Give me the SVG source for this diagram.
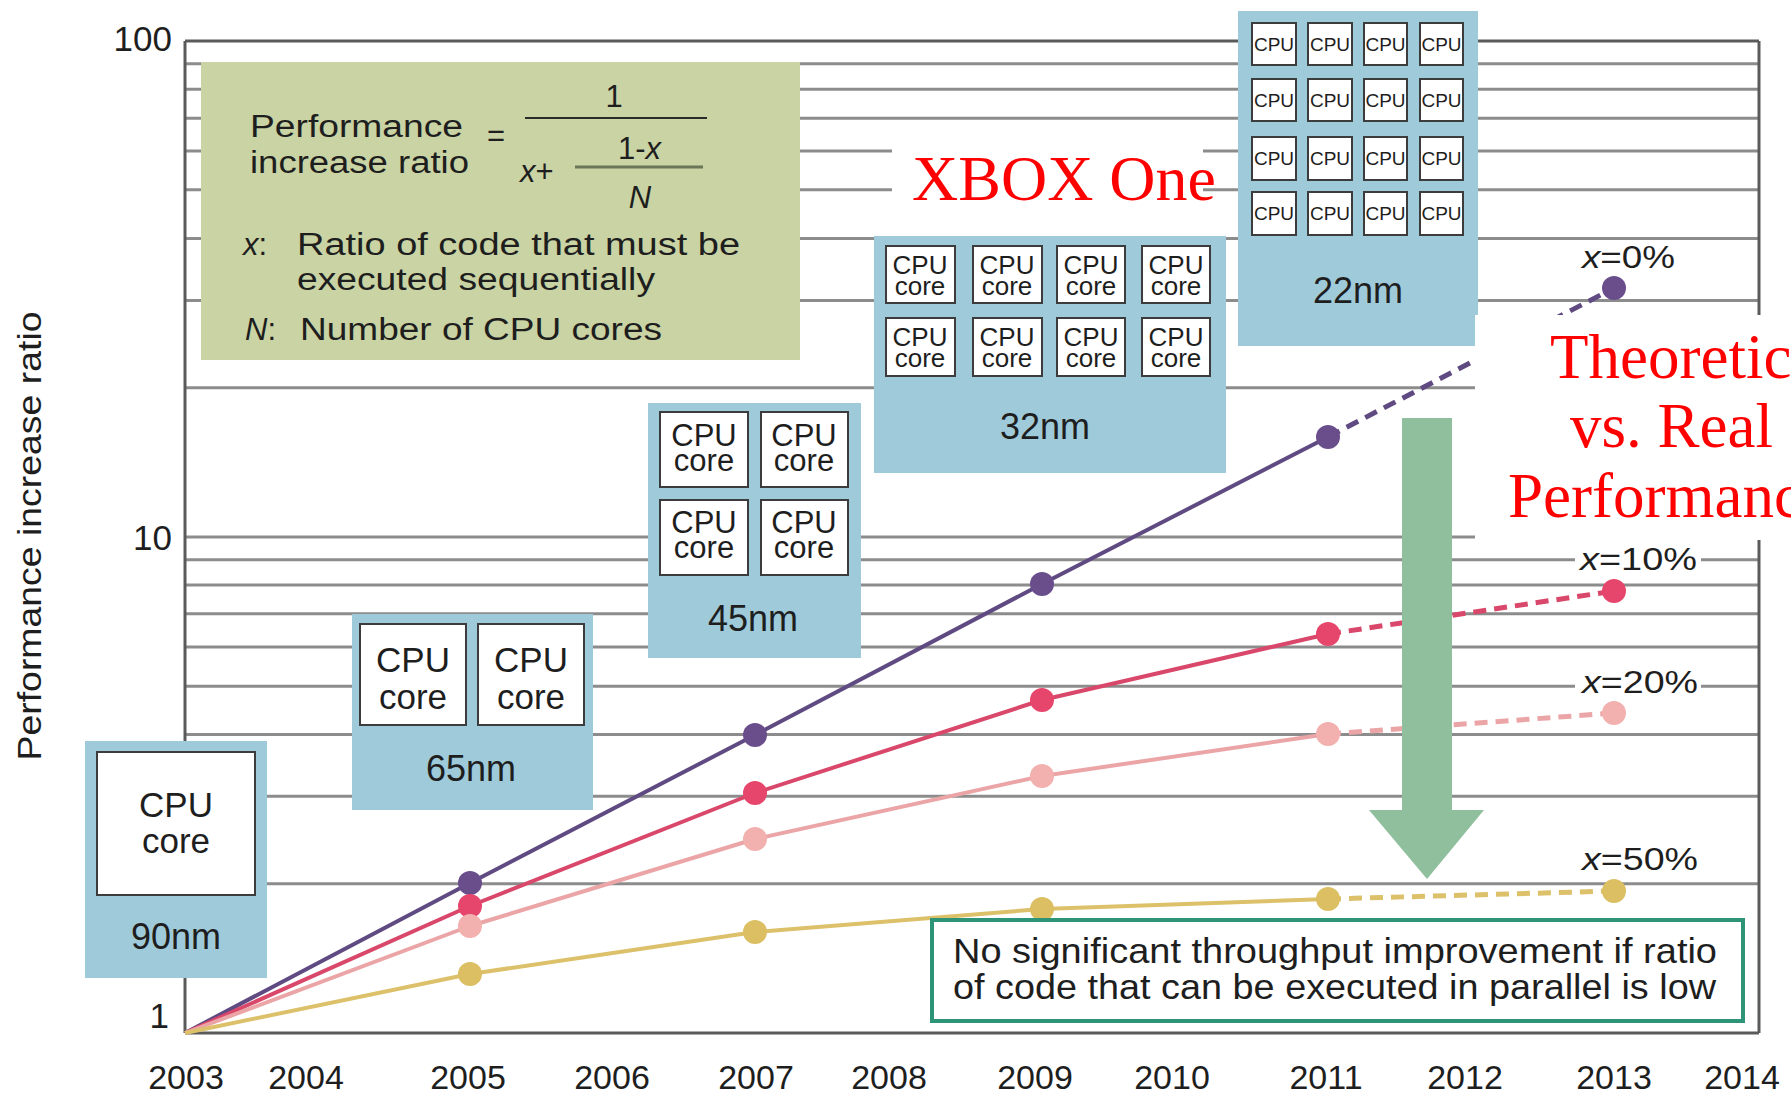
<svg xmlns="http://www.w3.org/2000/svg" width="1791" height="1096" viewBox="0 0 1791 1096">
<style>
text{font-family:"Liberation Sans",Arial,sans-serif;fill:#1e1e1e}
.grid{stroke:#8c8c8c;stroke-width:3;fill:none}
.axis{stroke:#5a5a5a;stroke-width:3;fill:none}
.blue{fill:#9ecad9}
.core{fill:#ffffff;stroke:#3c3c3c;stroke-width:2}
.yr{font-size:34px;text-anchor:middle}
.ylab{font-size:35px;text-anchor:end}
.lbl{font-size:32px}
.it{font-style:italic}
.nm{font-size:36px;text-anchor:middle}
.c36{font-size:35px;text-anchor:middle}
.c31{font-size:31px;text-anchor:middle}
.c26{font-size:26px;text-anchor:middle}
.c19{font-size:19px;text-anchor:middle}
.f{font-size:31px}
.red{font-family:"Liberation Serif","Times New Roman",serif;fill:#ff0000;font-size:63px}
.solid{fill:none;stroke-width:4;stroke-linejoin:round}
.dash{fill:none;stroke-width:5;stroke-dasharray:13 8}
</style>
<rect x="0" y="0" width="1791" height="1096" fill="#ffffff"/>

<g id="grid">
<line class="axis" x1="185" y1="41" x2="1759" y2="41"/>
<line class="grid" x1="185" y1="63.7" x2="1759" y2="63.7"/>
<line class="grid" x1="185" y1="89.3" x2="1759" y2="89.3"/>
<line class="grid" x1="185" y1="118.3" x2="1759" y2="118.3"/>
<line class="grid" x1="185" y1="151" x2="1759" y2="151"/>
<line class="grid" x1="185" y1="189.7" x2="1759" y2="189.7"/>
<line class="grid" x1="185" y1="238.4" x2="1759" y2="238.4"/>
<line class="grid" x1="185" y1="300.4" x2="1759" y2="300.4"/>
<line class="grid" x1="185" y1="387.7" x2="1759" y2="387.7"/>
<line class="grid" x1="185" y1="537" x2="1759" y2="537"/>
<line class="grid" x1="185" y1="559.7" x2="1759" y2="559.7"/>
<line class="grid" x1="185" y1="585" x2="1759" y2="585"/>
<line class="grid" x1="185" y1="613.8" x2="1759" y2="613.8"/>
<line class="grid" x1="185" y1="647.1" x2="1759" y2="647.1"/>
<line class="grid" x1="185" y1="686.3" x2="1759" y2="686.3"/>
<line class="grid" x1="185" y1="734.4" x2="1759" y2="734.4"/>
<line class="grid" x1="185" y1="796.3" x2="1759" y2="796.3"/>
<line class="grid" x1="185" y1="883.7" x2="1759" y2="883.7"/>
<line class="axis" x1="185" y1="1033" x2="1759" y2="1033"/>
<line class="axis" x1="185" y1="41" x2="185" y2="1033"/>
<line class="axis" x1="1759" y1="41" x2="1759" y2="1033"/>
</g>

<g id="axis-labels">
<text class="ylab" x="172" y="51">100</text>
<text class="ylab" x="172" y="550">10</text>
<text class="ylab" x="169" y="1028">1</text>
<text font-size="34" text-anchor="middle" transform="translate(41,536) rotate(-90)" textLength="449" lengthAdjust="spacingAndGlyphs">Performance increase ratio</text>
<text class="yr" x="186" y="1089">2003</text>
<text class="yr" x="306" y="1089">2004</text>
<text class="yr" x="468" y="1089">2005</text>
<text class="yr" x="612" y="1089">2006</text>
<text class="yr" x="756" y="1089">2007</text>
<text class="yr" x="889" y="1089">2008</text>
<text class="yr" x="1035" y="1089">2009</text>
<text class="yr" x="1172" y="1089">2010</text>
<text class="yr" x="1326" y="1089">2011</text>
<text class="yr" x="1465" y="1089">2012</text>
<text class="yr" x="1614" y="1089">2013</text>
<text class="yr" x="1742" y="1089">2014</text>
</g>

<g id="connectors">
<polyline class="solid" stroke="#5f4b82" points="185,1033 470,883 755,735 1042,584 1328,437"/>
<line class="dash" stroke="#5f4b82" x1="1328" y1="437" x2="1614" y2="288"/>
<polyline class="solid" stroke="#d9476b" points="185,1033 470,906 755,793 1042,700 1328,634"/>
<line class="dash" stroke="#d9476b" x1="1328" y1="634" x2="1614" y2="591"/>
<polyline class="solid" stroke="#eba5a6" points="185,1033 470,926 755,839 1042,776 1328,734"/>
<line class="dash" stroke="#eba5a6" x1="1328" y1="734" x2="1614" y2="713"/>
<polyline class="solid" stroke="#dcc06a" points="185,1033 470,974 755,932 1042,909 1328,899"/>
<line class="dash" stroke="#dcc06a" x1="1328" y1="899" x2="1614" y2="891"/>
</g>

<g id="points">
<g fill="#6a4e8c">
<circle cx="470" cy="883" r="12"/><circle cx="755" cy="735" r="12"/><circle cx="1042" cy="584" r="12"/><circle cx="1328" cy="437" r="12"/><circle cx="1614" cy="288" r="12"/>
</g>
<g fill="#e6466b">
<circle cx="470" cy="906" r="12"/><circle cx="755" cy="793" r="12"/><circle cx="1042" cy="700" r="12"/><circle cx="1328" cy="634" r="12"/><circle cx="1614" cy="591" r="12"/>
</g>
<g fill="#f2b0ae">
<circle cx="470" cy="926" r="12"/><circle cx="755" cy="839" r="12"/><circle cx="1042" cy="776" r="12"/><circle cx="1328" cy="734" r="12"/><circle cx="1614" cy="713" r="12"/>
</g>
<g fill="#dbbf62">
<circle cx="470" cy="974" r="12"/><circle cx="755" cy="932" r="12"/><circle cx="1042" cy="909" r="12"/><circle cx="1328" cy="899" r="12"/><circle cx="1614" cy="891" r="12"/>
</g>
</g>

<g id="series-labels">
<text class="lbl" x="1582" y="268" textLength="93" lengthAdjust="spacingAndGlyphs"><tspan class="it">x</tspan>=0%</text>
<rect x="1575" y="540" width="126" height="34" fill="#ffffff"/>
<text class="lbl" x="1580" y="570" textLength="117" lengthAdjust="spacingAndGlyphs"><tspan class="it">x</tspan>=10%</text>
<rect x="1575" y="662" width="126" height="34" fill="#ffffff"/>
<text class="lbl" x="1582" y="693" textLength="116" lengthAdjust="spacingAndGlyphs"><tspan class="it">x</tspan>=20%</text>
<text class="lbl" x="1582" y="870" textLength="116" lengthAdjust="spacingAndGlyphs"><tspan class="it">x</tspan>=50%</text>
</g>

<g id="formula">
<rect x="201" y="62" width="599" height="298" fill="#c9d3a3"/>
<text class="f" x="250" y="137" textLength="213" lengthAdjust="spacingAndGlyphs">Performance</text>
<text class="f" x="250" y="173" textLength="219" lengthAdjust="spacingAndGlyphs">increase ratio</text>
<text class="f" x="487" y="146">=</text>
<text class="f" x="614" y="107" text-anchor="middle">1</text>
<line x1="525" y1="118" x2="707" y2="118" stroke="#2a2a2a" stroke-width="2"/>
<text class="f" x="618" y="159">1-<tspan class="it">x</tspan></text>
<line x1="575" y1="167" x2="703" y2="167" stroke="#6b7557" stroke-width="3"/>
<text class="f" x="520" y="182"><tspan class="it">x</tspan>+</text>
<text class="f it" x="640" y="208" text-anchor="middle">N</text>
<text class="f" x="243" y="255"><tspan class="it">x</tspan>:</text>
<text class="f" x="297" y="255" textLength="443" lengthAdjust="spacingAndGlyphs">Ratio of code that must be</text>
<text class="f" x="297" y="290" textLength="358" lengthAdjust="spacingAndGlyphs">executed sequentially</text>
<text class="f" x="245" y="340"><tspan class="it">N</tspan>:</text>
<text class="f" x="300" y="340" textLength="362" lengthAdjust="spacingAndGlyphs">Number of CPU cores</text>
</g>

<g id="node-90nm">
<rect class="blue" x="85" y="741" width="182" height="237"/>
<rect class="core" x="97" y="752" width="158" height="143"/>
<text class="c36" x="176" y="817">CPU</text>
<text class="c36" x="176" y="853">core</text>
<text class="nm" x="176" y="949">90nm</text>
</g>

<g id="node-65nm">
<rect class="blue" x="352" y="614" width="241" height="196"/>
<rect class="core" x="360" y="624" width="106" height="101"/>
<rect class="core" x="478" y="624" width="106" height="101"/>
<text class="c36" x="413" y="672">CPU</text>
<text class="c36" x="413" y="709">core</text>
<text class="c36" x="531" y="672">CPU</text>
<text class="c36" x="531" y="709">core</text>
<text class="nm" x="471" y="781">65nm</text>
</g>

<g id="node-45nm">
<rect class="blue" x="648" y="403" width="213" height="255"/>
<rect class="core" x="660" y="412" width="88" height="75"/>
<rect class="core" x="761" y="412" width="87" height="75"/>
<rect class="core" x="660" y="500" width="88" height="75"/>
<rect class="core" x="761" y="500" width="87" height="75"/>
<text class="c31" x="704" y="446">CPU</text><text class="c31" x="704" y="471">core</text>
<text class="c31" x="804" y="446">CPU</text><text class="c31" x="804" y="471">core</text>
<text class="c31" x="704" y="533">CPU</text><text class="c31" x="704" y="558">core</text>
<text class="c31" x="804" y="533">CPU</text><text class="c31" x="804" y="558">core</text>
<text class="nm" x="753" y="631">45nm</text>
</g>

<g id="node-32nm">
<rect class="blue" x="874" y="236" width="352" height="237"/>
<rect class="core" x="886" y="246" width="69" height="57"/>
<rect class="core" x="973" y="246" width="69" height="57"/>
<rect class="core" x="1057" y="246" width="68" height="57"/>
<rect class="core" x="1142" y="246" width="68" height="57"/>
<rect class="core" x="886" y="318" width="69" height="58"/>
<rect class="core" x="973" y="318" width="69" height="58"/>
<rect class="core" x="1057" y="318" width="68" height="58"/>
<rect class="core" x="1142" y="318" width="68" height="58"/>
<text class="c26" x="920" y="274">CPU</text><text class="c26" x="920" y="295">core</text>
<text class="c26" x="1007" y="274">CPU</text><text class="c26" x="1007" y="295">core</text>
<text class="c26" x="1091" y="274">CPU</text><text class="c26" x="1091" y="295">core</text>
<text class="c26" x="1176" y="274">CPU</text><text class="c26" x="1176" y="295">core</text>
<text class="c26" x="920" y="346">CPU</text><text class="c26" x="920" y="367">core</text>
<text class="c26" x="1007" y="346">CPU</text><text class="c26" x="1007" y="367">core</text>
<text class="c26" x="1091" y="346">CPU</text><text class="c26" x="1091" y="367">core</text>
<text class="c26" x="1176" y="346">CPU</text><text class="c26" x="1176" y="367">core</text>
<text class="nm" x="1045" y="439">32nm</text>
</g>

<g id="node-22nm">
<rect class="blue" x="1238" y="11" width="240" height="335"/>
<g class="core" stroke-width="1.5">
<rect x="1252" y="23" width="44" height="42"/><rect x="1308" y="23" width="44" height="42"/><rect x="1364" y="23" width="43" height="42"/><rect x="1420" y="23" width="43" height="42"/>
<rect x="1252" y="79" width="44" height="42"/><rect x="1308" y="79" width="44" height="42"/><rect x="1364" y="79" width="43" height="42"/><rect x="1420" y="79" width="43" height="42"/>
<rect x="1252" y="137" width="44" height="43"/><rect x="1308" y="137" width="44" height="43"/><rect x="1364" y="137" width="43" height="43"/><rect x="1420" y="137" width="43" height="43"/>
<rect x="1252" y="192" width="44" height="43"/><rect x="1308" y="192" width="44" height="43"/><rect x="1364" y="192" width="43" height="43"/><rect x="1420" y="192" width="43" height="43"/>
</g>
<g class="c19">
<text x="1274" y="51">CPU</text><text x="1330" y="51">CPU</text><text x="1385.5" y="51">CPU</text><text x="1441.5" y="51">CPU</text>
<text x="1274" y="107">CPU</text><text x="1330" y="107">CPU</text><text x="1385.5" y="107">CPU</text><text x="1441.5" y="107">CPU</text>
<text x="1274" y="165">CPU</text><text x="1330" y="165">CPU</text><text x="1385.5" y="165">CPU</text><text x="1441.5" y="165">CPU</text>
<text x="1274" y="220">CPU</text><text x="1330" y="220">CPU</text><text x="1385.5" y="220">CPU</text><text x="1441.5" y="220">CPU</text>
</g>
<text class="nm" x="1358" y="303">22nm</text>
</g>

<g id="arrow">
<polygon fill="#8fbf9c" points="1402,418 1452,418 1452,810 1484,810 1427,879 1369,810 1402,810"/>
</g>

<g id="note">
<rect x="932" y="920" width="811" height="101" fill="#ffffff" stroke="#2d9478" stroke-width="4"/>
<text font-size="35" x="953" y="963" textLength="764" lengthAdjust="spacingAndGlyphs">No significant throughput improvement if ratio</text>
<text font-size="35" x="953" y="999" textLength="763" lengthAdjust="spacingAndGlyphs">of code that can be executed in parallel is low</text>
</g>

<g id="xbox-label">
<rect x="892" y="140" width="311" height="64" fill="#ffffff"/>
<text class="red" x="912" y="200" font-size="64" textLength="304" lengthAdjust="spacingAndGlyphs">XBOX One</text>
</g>

<g id="title-label">
<rect x="1475" y="315" width="316" height="225" fill="#ffffff"/>
<text class="red" x="1550" y="378">Theoretical</text>
<text class="red" x="1570" y="447">vs. Real</text>
<text class="red" x="1508" y="517">Performance</text>
</g>
</svg>
